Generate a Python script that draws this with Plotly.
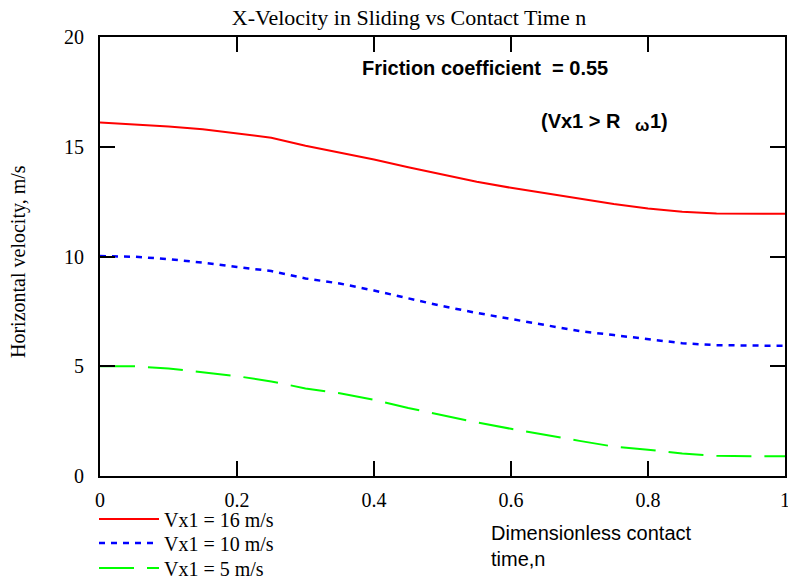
import plotly.graph_objects as go

n_vals = [0.0, 0.05, 0.1, 0.15, 0.2, 0.25, 0.3, 0.35, 0.4, 0.45, 0.5,
          0.55, 0.6, 0.65, 0.7, 0.75, 0.8, 0.85, 0.9, 0.95, 1.0]
v16 = [16.1, 16.02, 15.92, 15.8, 15.6, 15.41, 15.05, 14.75, 14.42, 14.07, 13.73,
       13.41, 13.13, 12.88, 12.63, 12.39, 12.19, 12.04, 11.96, 11.95, 11.95]
v10 = [10.02, 9.99, 9.88, 9.72, 9.52, 9.34, 9.0, 8.77, 8.45, 8.09, 7.74,
       7.43, 7.15, 6.85, 6.6, 6.42, 6.25, 6.05, 5.96, 5.93, 5.93]
v5 = [5.0, 5.0, 4.9, 4.72, 4.55, 4.31, 3.99, 3.77, 3.47, 3.1, 2.76,
      2.44, 2.15, 1.86, 1.6, 1.34, 1.2, 1.02, 0.92, 0.9, 0.9]
names = ["Vx1 = 16 m/s", "Vx1 = 10 m/s", "Vx1 = 5 m/s"]
x_ticks = [0, 0.2, 0.4, 0.6, 0.8, 1]
x_tick_text = ["0", "0.2", "0.4", "0.6", "0.8", "1"]
y_ticks = [0, 5, 10, 15, 20]

SERIF = "Liberation Serif, Times New Roman, serif"
SANS = "Liberation Sans, Arial, sans-serif"

L, R, T, B = 100, 3, 37, 103
PW, PH = 788 - L - R, 579 - T - B


def px(xp):
    return (xp - L) / PW


def py(yp):
    return (579 - B - yp) / PH


fig = go.Figure()
fig.add_trace(go.Scatter(x=n_vals, y=v16, mode="lines", name=names[0], legend="legend",
                         line=dict(color="#ff0000", width=2)))
fig.add_trace(go.Scatter(x=n_vals, y=v10, mode="lines", name=names[1], legend="legend2",
                         line=dict(color="#0000ff", width=2.5, dash="6px,6px")))
fig.add_trace(go.Scatter(x=n_vals, y=v5, mode="lines", name=names[2], legend="legend3",
                         line=dict(color="#00ff00", width=2, dash="35px,13px")))

axis_common = dict(showline=True, linecolor="black", linewidth=2, mirror="ticks",
                   ticks="inside", ticklen=15, tickwidth=2, tickcolor="black",
                   showgrid=False, zeroline=False, ticklabeloverflow="allow",
                   tickfont=dict(family=SERIF, size=20, color="black"))

fig.update_xaxes(range=[0, 1], tickvals=x_ticks, ticktext=x_tick_text,
                 ticklabelstandoff=5, **axis_common)
fig.update_yaxes(range=[0, 20], tickvals=y_ticks, ticklabelstandoff=10, **axis_common)

leg_common = dict(xanchor="left", yanchor="middle",
                  font=dict(family=SERIF, size=20, color="black"),
                  itemwidth=60, bgcolor="rgba(0,0,0,0)")

bold = dict(family=SANS, size=20, color="black", weight="bold")

fig.update_layout(
    width=788, height=579,
    margin=dict(l=L, r=R, t=T, b=B, autoexpand=False),
    plot_bgcolor="white", paper_bgcolor="white",
    title=dict(text="X-Velocity in Sliding vs Contact Time n",
               font=dict(family=SERIF, size=22, color="black"),
               x=409 / 788, xanchor="center", y=1 - 17 / 579, yanchor="middle",
               xref="container", yref="container"),
    showlegend=True,
    legend=dict(x=px(94), y=py(519), **leg_common),
    legend2=dict(x=px(94), y=py(543), **leg_common),
    legend3=dict(x=px(94), y=py(568), **leg_common),
    annotations=[
        dict(text="Friction coefficient  = 0.55", xref="paper", yref="paper",
             x=px(485), y=py(68), xanchor="center", yanchor="middle",
             showarrow=False, font=bold),
        dict(text="(Vx1 > R", xref="paper", yref="paper",
             x=px(539), y=py(121), xanchor="left", yanchor="middle",
             showarrow=False, font=bold),
        dict(text="ω", xref="paper", yref="paper",
             x=px(642), y=py(125), xanchor="center", yanchor="middle",
             showarrow=False, font=dict(family=SANS, size=17, color="black", weight="bold")),
        dict(text="1)", xref="paper", yref="paper",
             x=px(670), y=py(121), xanchor="right", yanchor="middle",
             showarrow=False, font=bold),
        dict(text="Horizontal velocity, m/s", xref="paper", yref="paper",
             x=px(18), y=py(262), xanchor="center", yanchor="middle",
             textangle=-90, showarrow=False,
             font=dict(family=SERIF, size=20, color="black")),
        dict(text="Dimensionless contact<br>time,n", xref="paper", yref="paper",
             x=px(489), y=py(520), xanchor="left", yanchor="top",
             align="left", showarrow=False,
             font=dict(family=SANS, size=20, color="black")),
    ],
)

fig.write_html("out.html")
